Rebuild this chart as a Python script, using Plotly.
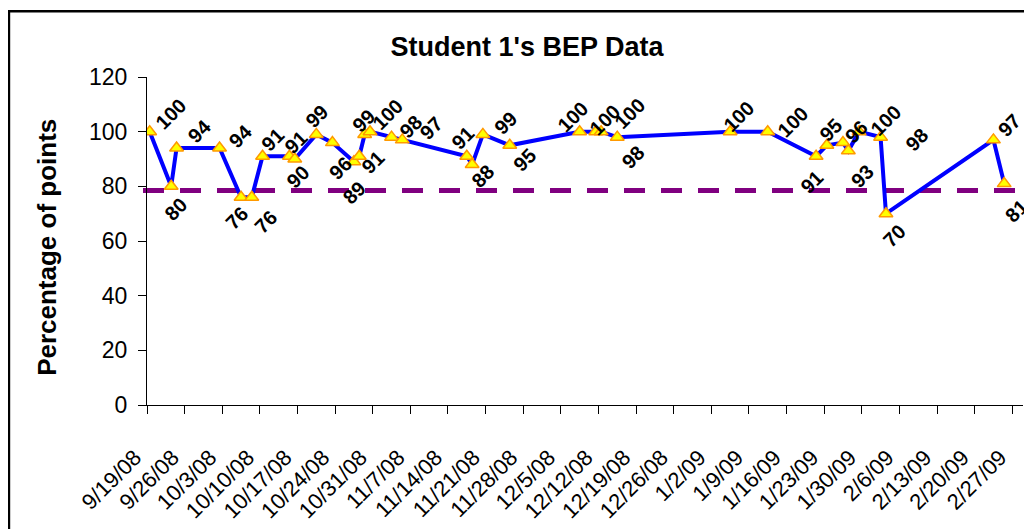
import pandas as pd
import plotly.graph_objects as go

# ---- data ----
dates = ['2008-09-19', '2008-09-23', '2008-09-24', '2008-10-02', '2008-10-06', '2008-10-08',
         '2008-10-10', '2008-10-15', '2008-10-16', '2008-10-20', '2008-10-23', '2008-10-27',
         '2008-10-28', '2008-10-29', '2008-10-30', '2008-11-03', '2008-11-05', '2008-11-17',
         '2008-11-18', '2008-11-20', '2008-11-25', '2008-12-08', '2008-12-11', '2008-12-12',
         '2008-12-15', '2009-01-05', '2009-01-12', '2009-01-21', '2009-01-23', '2009-01-26',
         '2009-01-27', '2009-01-29', '2009-02-02', '2009-02-03', '2009-02-23', '2009-02-25']
scores = [100, 80, 94, 94, 76, 76, 91, 91, 90, 99, 96, 89, 91, 99, 100, 98, 97, 91,
          88, 99, 95, 100, 100, 100, 98, 100, 100, 91, 95, 96, 93, 100, 98, 70, 97, 81]
threshold = 78.5
tick_labels = ['9/19/08', '9/26/08', '10/3/08', '10/10/08', '10/17/08', '10/24/08', '10/31/08',
               '11/7/08', '11/14/08', '11/21/08', '11/28/08', '12/5/08', '12/12/08', '12/19/08',
               '12/26/08', '1/2/09', '1/9/09', '1/16/09', '1/23/09', '1/30/09', '2/6/09',
               '2/13/09', '2/20/09', '2/27/09']
y_ticks = [0, 20, 40, 60, 80, 100, 120]

# ---- style: data-label offsets in px (dx right, dy down) ----
label_offsets = [(21, -18), (5, 23), (23, -17), (21, -12), (-4, 21), (14, 25), (10, -16),
                 (7, -14), (3, 18), (1, -18), (8, 25), (0, 31), (14, 6), (-1, -13),
                 (17, -17), (19, -10), (29, -12), (-4, -18), (11, 12), (23, -11), (15, 15),
                 (-7, -15), (9, -12), (28, -18), (16, 20), (8, -15), (25, -10), (-4, 26),
                 (4, -15), (13, -11), (14, 25), (26, -11), (36, 3), (8, 22), (16, -15),
                 (12, 27)]

# the page has an 8px body margin; the figure fills the rest of the 1032x529 window
PAGE = 8
W, H = 1032 - PAGE, 529 - PAGE
# plot area in figure pixels
PL, PR, PT, PB = 147 - PAGE, 1022.7 - PAGE, 76.7 - PAGE, 405.5 - PAGE
ML, MR, MT, MB = PL, W - PR, PT, H - PB
PW, PH = PR - PL, PB - PT


def px_to_paper_x(px):
    return (px - PAGE - PL) / PW


def py_to_paper_y(py):
    return (PB - (py - PAGE)) / PH


x_dates = pd.to_datetime(dates)
half_day = pd.Timedelta(hours=12)
tick_vals = pd.to_datetime(tick_labels, format='%m/%d/%y') - half_day
x_start = pd.Timestamp('2008-09-19') - half_day
x_end = x_start + pd.Timedelta(days=163)

fig = go.Figure()
fig.add_trace(go.Scatter(
    x=x_dates, y=scores, mode='lines+markers',
    line=dict(color='#0000FF', width=4),
    marker=dict(symbol='triangle-up', size=12, color='#FFFF00',
                line=dict(color='#FF9900', width=1.5)),
    showlegend=False, hoverinfo='x+y'))

FONT = 'Liberation Sans, Arial, sans-serif'
annotations = []
for d, v, (dx, dy) in zip(x_dates, scores, label_offsets):
    annotations.append(dict(
        x=d, y=v, xref='x', yref='y', text='<b>%d</b>' % v, showarrow=False,
        textangle=-45, xanchor='center', yanchor='middle', xshift=dx, yshift=-dy,
        font=dict(family=FONT, size=20, color='black')))

# y-axis title
annotations.append(dict(
    x=px_to_paper_x(47), y=py_to_paper_y(247), xref='paper', yref='paper',
    text='<b>Percentage of points</b>', showarrow=False, textangle=-90,
    xanchor='center', yanchor='middle',
    font=dict(family=FONT, size=26, color='black')))

shapes = [
    # threshold dashed line
    dict(type='line', xref='paper', yref='y', x0=px_to_paper_x(143), x1=1.0,
         y0=threshold, y1=threshold, layer='below',
         line=dict(color='#800080', width=5, dash='21px,16px')),
    # outer chart border
    dict(type='rect', xref='paper', yref='paper',
         x0=px_to_paper_x(9), x1=px_to_paper_x(1080),
         y0=py_to_paper_y(600), y1=py_to_paper_y(10.7),
         line=dict(color='black', width=2.5), fillcolor='rgba(0,0,0,0)'),
]

fig.update_layout(
    width=W, height=H,
    margin=dict(l=ML, r=MR, t=MT, b=MB, autoexpand=False),
    paper_bgcolor='white', plot_bgcolor='white',
    font=dict(family=FONT, color='black'),
    title=dict(text='<b>Student 1\'s BEP Data</b>', x=(527 - PAGE) / W, xanchor='center',
               xref='container', yref='container', y=1 - (47 - PAGE) / H, yanchor='middle',
               font=dict(family=FONT, size=27, color='black')),
    xaxis=dict(type='date', range=[x_start, x_end], tickmode='array',
               tickvals=tick_vals, ticktext=tick_labels, tickangle=-45,
               ticks='outside', ticklen=8, tickcolor='black', tickwidth=1,
               showline=True, linecolor='black', linewidth=1,
               showgrid=False, zeroline=False, ticklabelstandoff=22, ticklabelshift=-12,
               tickfont=dict(family=FONT, size=22, color='black')),
    yaxis=dict(range=[0, 120], tickmode='array', tickvals=y_ticks,
               ticks='outside', ticklen=8, tickcolor='black', tickwidth=1,
               showline=True, linecolor='black', linewidth=1,
               showgrid=False, zeroline=False, ticklabelstandoff=6,
               tickfont=dict(family=FONT, size=23, color='black')),
    annotations=annotations, shapes=shapes,
)

fig.write_html('out.html')
